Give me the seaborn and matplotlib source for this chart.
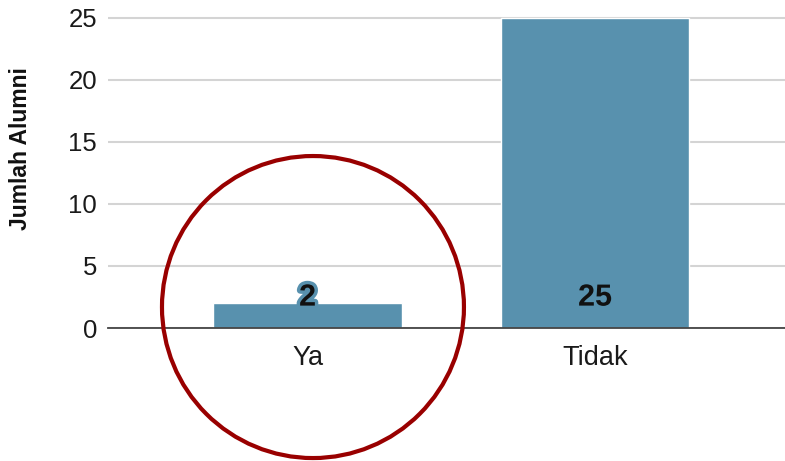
import matplotlib
matplotlib.use("Agg")
import matplotlib.pyplot as plt
import matplotlib.patheffects as pe
from matplotlib.patches import Ellipse
import seaborn as sns
import pandas as pd

categories = ["Ya", "Tidak"]
values = [2, 25]
yticks = [0, 5, 10, 15, 20, 25]
ylabel = "Jumlah Alumni"

bar_color = "#5891ae"
df = pd.DataFrame({"cat": categories, "val": values})

sns.set_theme(style="white")
plt.rcParams["font.family"] = ["Liberation Sans", "DejaVu Sans"]

fig = plt.figure(figsize=(7.85, 4.61), dpi=100)
ax = fig.add_axes([108 / 785, 133 / 461, 1 - 108 / 785, 313 / 461])

sns.barplot(data=df, x="cat", y="val", color=bar_color, saturation=1,
            width=0.657, ax=ax, zorder=3)

ax.set_ylim(0, 25.24)
ax.set_xlim(-0.694, 1.661)
ax.set_yticks(yticks)
ax.set_yticklabels([str(t) for t in yticks])
ax.yaxis.grid(True, color="#d4d4d4", linewidth=1.5, zorder=0)
ax.set_axisbelow(True)
for s in ["top", "right", "left"]:
    ax.spines[s].set_visible(False)
ax.spines["bottom"].set_color("#444444")
ax.spines["bottom"].set_linewidth(1.3)
ax.spines["bottom"].set_zorder(4)
ax.tick_params(axis="y", length=0, pad=8, labelsize=18.5, labelcolor="#1a1a1a")
ax.tick_params(axis="x", length=0, pad=12, labelsize=19.5, labelcolor="#1a1a1a")
ax.set_xlabel("")
ax.set_ylabel(ylabel, fontsize=16.5, fontweight="bold", color="#111111")
ax.yaxis.set_label_coords(-0.112, 0.572)

for i, v in enumerate(values):
    ax.text(i, 2.45, str(v), ha="center", va="center", fontsize=22,
            fontweight="bold", color="#111111", zorder=5,
            path_effects=[pe.withStroke(linewidth=5, foreground=bar_color)])

# highlight circle around the "Ya" bar
circ = Ellipse((0.019, 1.69), width=302 / 287.5, height=302 / 12.4,
               fill=False, edgecolor="#990000", linewidth=3, clip_on=False, zorder=6)
ax.add_patch(circ)

fig.savefig("out.png", dpi=100, facecolor="white")
